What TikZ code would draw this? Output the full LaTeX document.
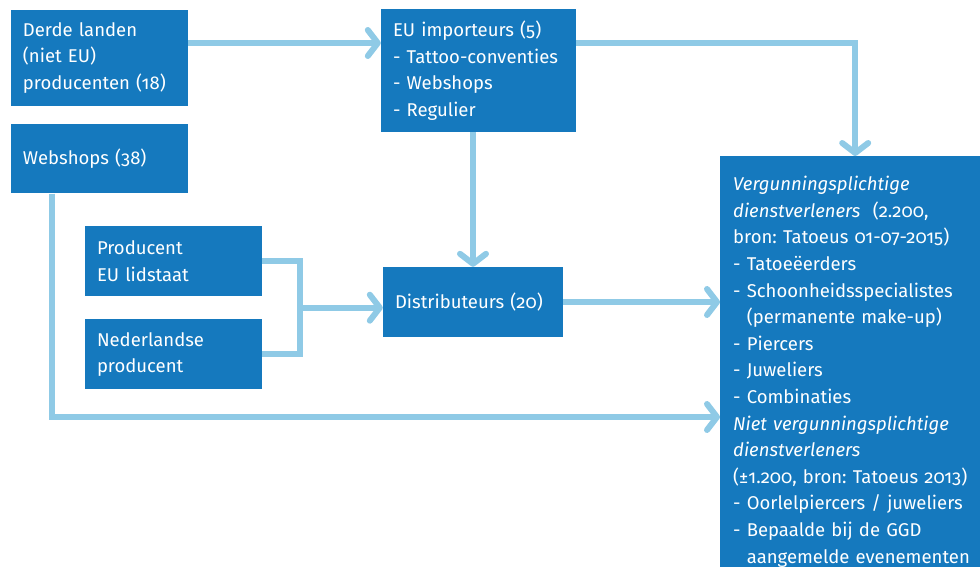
\documentclass[tikz,border=0pt]{standalone}
\usepackage{fontspec}
\setmainfont{Fira Sans}[Numbers=OldStyle]
\frenchspacing
\usetikzlibrary{
  arrows.meta, % for Straight Barb arrow tip
  calc, % for the joining point of the two producers
  positioning, % for relative positioning of the boxes
}
\definecolor{boxblue}{RGB}{21,121,190}
\definecolor{linkblue}{RGB}{143,202,230}
\tikzset{
  box/.style={ % style for each box
    rectangle,fill=boxblue, % filled dark blue, no border
    text=white, % white text on the blue
    align=left, % lines start at the left
    inner xsep=12pt, % padding between the text and the left edge
    inner ysep=0pt, % height comes from minimum height
    font=\fontsize{18.5}{26.6}\selectfont, % large text with wide lines
    node distance=18pt and 3em, % spacing between boxes (y and x)
  },
  link/.style={ % style for a connection without a tip
    draw=linkblue, % light blue
    line width=6pt, % thick like the reference
  },
  conn/.style={ % style for the connections
    link, % inherit the link style
    -{Straight Barb[length=10pt,width=26pt,round]}, % open barbed arrow tip
  },
}
\begin{document}
\begin{tikzpicture}[x=1pt,y=-1pt]
	\useasboundingbox (0,0) rectangle (980,566);

	\node[box,text width=153pt,minimum height=96pt] (derde) at (99.5,58) {Derde landen\\(niet EU)\\producenten (18)};
	\node[box,text width=153pt,minimum height=69pt,below=of derde] (web) {Webshops (38)};

	\node[box,text width=171pt,minimum height=123pt] (eu) at (478.5,70.5) {EU importeurs (5)\\- Tattoo-conventies\\- Webshops\\- Regulier};

	\node[box,text width=153pt,minimum height=70pt] (prod) at (173.5,261) {Producent\\EU lidstaat};
	\node[box,text width=153pt,minimum height=70pt,below=23pt of prod] (ned) {Nederlandse\\producent};

	\node[box,text width=156pt,minimum height=70pt] (distr) at (473,302) {Distributeurs (20)};

	\node[box,text width=244pt,inner xsep=13pt,inner ysep=20pt,anchor=north west] (vb) at (720,156) {\textit{Vergunningsplichtige}\\
		\textit{dienstverleners}\ \ (2.200,\\
		bron: Tatoeus 01-07-2015)\\
		- Tatoeëerders\\
		- Schoonheidsspecialistes\\
		\hphantom{- }(permanente make-up)\\
		- Piercers\\
		- Juweliers\\
		- Combinaties\\
		\textit{Niet vergunningsplichtige}\\
		\textit{dienstverleners}\\
		(±1.200, bron: Tatoeus 2013)\\
		- Oorlelpiercers / juweliers\\
		- Bepaalde bij de GGD\\
		\hphantom{- }aangemelde evenementen};

	\draw[conn] ([yshift=15pt]derde.east) -- ([yshift=15pt]derde.east -| eu.west);
	\draw[conn] ([yshift=27.5pt]eu.east) -| (vb.north);
	\draw[conn] (distr.north |- eu.south) -- (distr.north);
	\draw[conn] (distr.east) -- (distr.east -| vb.west);
	\draw[link] (prod.east) -- ++(38,0) coordinate (pj) |- (ned.east);
	\coordinate (join) at ($(pj)!.5!(pj |- ned.east)$);
	\draw[conn] (join) -- (join -| distr.west);
	\draw[conn] ([xshift=-48pt]web.south) |- ([yshift=-115pt]distr.east -| vb.west);

\end{tikzpicture}
\end{document}
